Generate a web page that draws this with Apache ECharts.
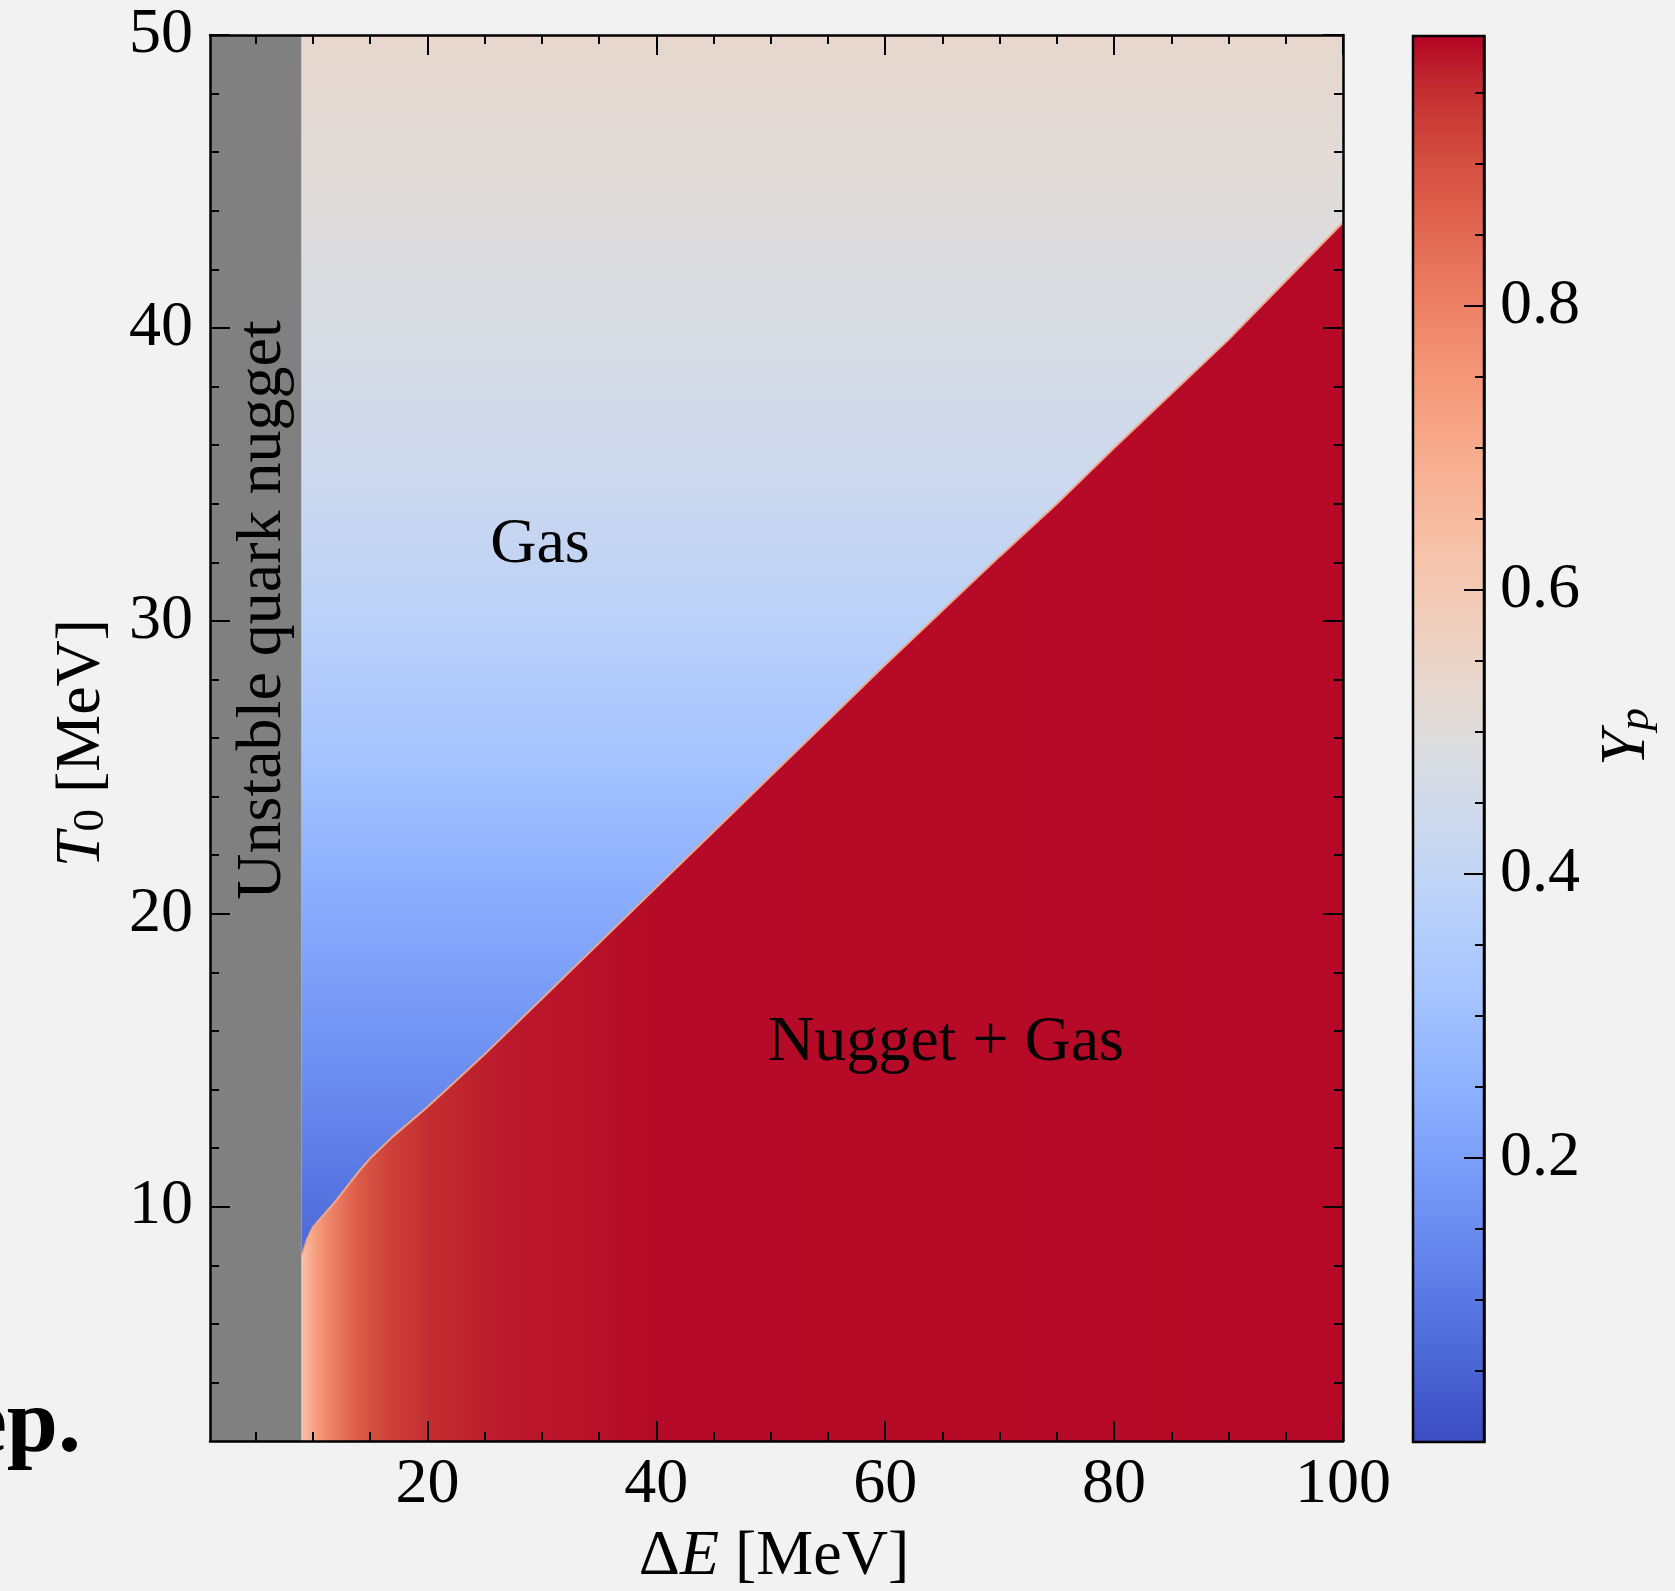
<!DOCTYPE html>
<html>
<head>
<meta charset="utf-8">
<script src="https://cdn.jsdelivr.net/npm/echarts@6/dist/echarts.min.js"></script>
<style>
html,body{margin:0;padding:0;background:#f2f2f2;}
#chart{width:1675px;height:1591px;}
</style>
</head>
<body>
<div id="chart"></div>
<script>
// ---------------- data ----------------
const xRange = [1, 100];            // ΔE [MeV]
const yRange = [2, 50];             // T0 [MeV]
const unstableRange = [1, 9];       // grey "Unstable quark nugget" band in ΔE

// phase boundary between "Gas" (above) and "Nugget + Gas" (below)
const boundaryDE = [9, 9.5, 10, 11, 12, 13, 14, 15, 17, 20, 22.5, 25, 30, 35, 40, 45, 50, 55, 60, 65, 70, 75, 80, 85, 90, 95, 100];
const boundaryT0 = [8.3, 8.9, 9.3, 9.75, 10.2, 10.7, 11.2, 11.65, 12.4, 13.4, 14.3, 15.2, 17.1, 19.0, 20.9, 22.8, 24.7, 26.6, 28.5, 30.35, 32.2, 34.0, 35.9, 37.75, 39.6, 41.6, 43.6];

// Yp in the gas phase (depends on T0 only)
const gasT0 = [2, 8, 10, 12, 15, 20, 25, 30, 35, 40, 45, 50];
const gasYp = [0.0, 0.06, 0.085, 0.115, 0.16, 0.23, 0.31, 0.38, 0.435, 0.475, 0.505, 0.535];

// Yp in the nugget + gas phase (depends on ΔE)
const nuggetDE = [9, 9.5, 10, 11, 12, 13, 14, 15, 17, 20, 23, 27, 33, 40, 100];
const nuggetYp = [0.614, 0.673, 0.713, 0.772, 0.812, 0.846, 0.876, 0.896, 0.926, 0.950, 0.962, 0.972, 0.978, 0.984, 0.986];

// ticks
const xMajorTicks = [20, 40, 60, 80, 100];
const xMinorTicks = [5, 10, 15, 25, 30, 35, 45, 50, 55, 65, 70, 75, 85, 90, 95];
const yMajorTicks = [10, 20, 30, 40, 50];
const yMinorTicks = [4, 6, 8, 12, 14, 16, 18, 22, 24, 26, 28, 32, 34, 36, 38, 42, 44, 46, 48];
const cbarRange = [0, 0.99];
const cbarMajorTicks = [0.2, 0.4, 0.6, 0.8];
const cbarMinorTicks = [0.05, 0.1, 0.15, 0.25, 0.3, 0.35, 0.45, 0.5, 0.55, 0.65, 0.7, 0.75, 0.85, 0.9, 0.95];

// ---------------- colormap (matplotlib coolwarm) ----------------
const COOLWARM = [[59,76,192],[68,90,204],[77,104,215],[87,117,225],[98,130,234],[108,142,241],[119,154,247],[130,165,251],[141,176,254],[152,185,255],[163,194,255],[174,201,253],[184,208,249],[194,213,244],[204,217,238],[213,219,230],[221,221,221],[229,216,209],[236,211,197],[241,204,185],[245,196,173],[247,187,160],[247,177,148],[247,166,135],[244,154,123],[241,141,111],[236,127,99],[229,112,88],[222,96,77],[213,80,66],[203,62,56],[192,40,47],[180,4,38]];
function cw(t) {
  t = Math.max(0, Math.min(1, t));
  const n = COOLWARM.length - 1;
  const f = t * n;
  const i = Math.min(n - 1, Math.floor(f));
  const r = f - i;
  const a = COOLWARM[i], b = COOLWARM[i + 1];
  return 'rgb(' + Math.round(a[0] + (b[0] - a[0]) * r) + ',' + Math.round(a[1] + (b[1] - a[1]) * r) + ',' + Math.round(a[2] + (b[2] - a[2]) * r) + ')';
}
function ypColor(v) { return cw((v - cbarRange[0]) / (cbarRange[1] - cbarRange[0])); }

const FONT = '"Liberation Serif", "Times New Roman", serif';
const FS = 64;
const BLACK = '#000';

function axisLine(show) { return { show: show, onZero: false, lineStyle: { color: BLACK, width: 2.5 } }; }
function ticks(vals, len) { return { show: true, inside: true, length: len, customValues: vals, lineStyle: { color: BLACK, width: 2 } }; }
function labels(vals, margin, fmt) {
  const o = { show: true, customValues: vals, margin: margin, fontFamily: FONT, fontSize: FS, color: BLACK };
  if (fmt) o.formatter = fmt;
  return o;
}
const noLabel = { show: false };

const chart = echarts.init(document.getElementById('chart'), null, { renderer: 'canvas' });

const option = {
  backgroundColor: '#f2f2f2',
  animation: false,
  grid: [
    { left: 210, top: 35, width: 1133, height: 1406 },
    { left: 1413, top: 36, width: 71, height: 1406 }
  ],
  xAxis: [
    { gridIndex: 0, type: 'value', min: xRange[0], max: xRange[1], position: 'bottom', z: 10, axisLine: axisLine(true), axisTick: ticks(xMajorTicks, 20), axisLabel: labels(xMajorTicks, 12), splitLine: { show: false } },
    { gridIndex: 0, type: 'value', min: xRange[0], max: xRange[1], position: 'bottom', offset: 0, z: 10, axisLine: axisLine(false), axisTick: ticks(xMinorTicks, 9), axisLabel: noLabel, splitLine: { show: false } },
    { gridIndex: 0, type: 'value', min: xRange[0], max: xRange[1], position: 'top', z: 10, axisLine: axisLine(true), axisTick: ticks(xMajorTicks, 20), axisLabel: noLabel, splitLine: { show: false } },
    { gridIndex: 0, type: 'value', min: xRange[0], max: xRange[1], position: 'top', offset: 0, z: 10, axisLine: axisLine(false), axisTick: ticks(xMinorTicks, 9), axisLabel: noLabel, splitLine: { show: false } },
    { gridIndex: 1, type: 'value', min: 0, max: 1, show: false }
  ],
  yAxis: [
    { gridIndex: 0, type: 'value', min: yRange[0], max: yRange[1], position: 'left', z: 10, axisLine: axisLine(true), axisTick: ticks(yMajorTicks, 20), axisLabel: labels(yMajorTicks, 17), splitLine: { show: false } },
    { gridIndex: 0, type: 'value', min: yRange[0], max: yRange[1], position: 'left', offset: 0, z: 10, axisLine: axisLine(false), axisTick: ticks(yMinorTicks, 9), axisLabel: noLabel, splitLine: { show: false } },
    { gridIndex: 0, type: 'value', min: yRange[0], max: yRange[1], position: 'right', z: 10, axisLine: axisLine(true), axisTick: ticks(yMajorTicks, 20), axisLabel: noLabel, splitLine: { show: false } },
    { gridIndex: 0, type: 'value', min: yRange[0], max: yRange[1], position: 'right', offset: 0, z: 10, axisLine: axisLine(false), axisTick: ticks(yMinorTicks, 9), axisLabel: noLabel, splitLine: { show: false } },
    { gridIndex: 1, type: 'value', min: cbarRange[0], max: cbarRange[1], position: 'right', z: 10, axisLine: axisLine(true), axisTick: ticks(cbarMajorTicks, 20), axisLabel: labels(cbarMajorTicks, 16, function (v) { return v.toFixed(1); }), splitLine: { show: false } },
    { gridIndex: 1, type: 'value', min: cbarRange[0], max: cbarRange[1], position: 'right', offset: 0, z: 10, axisLine: axisLine(false), axisTick: ticks(cbarMinorTicks, 9), axisLabel: noLabel, splitLine: { show: false } }
  ],
  series: [
    // grey unstable band
    {
      type: 'custom', coordinateSystem: 'cartesian2d', xAxisIndex: 0, yAxisIndex: 0, z: 1,
      data: [[unstableRange[0], unstableRange[1]]],
      renderItem: function (params, api) {
        const p0 = api.coord([api.value(0), yRange[1]]);
        const p1 = api.coord([api.value(1), yRange[0]]);
        return { type: 'rect', shape: { x: p0[0], y: p0[1], width: p1[0] - p0[0], height: p1[1] - p0[1] }, style: { fill: '#808080' } };
      }
    },
    // gas region (above boundary), colour by T0
    {
      type: 'custom', coordinateSystem: 'cartesian2d', xAxisIndex: 0, yAxisIndex: 0, z: 2,
      data: boundaryDE.map(function (d, i) { return [d, boundaryT0[i]]; }),
      renderItem: function (params, api) {
        if (params.dataIndex !== 0) return null;
        const pts = [];
        pts.push(api.coord([boundaryDE[0], yRange[1]]));
        pts.push(api.coord([boundaryDE[boundaryDE.length - 1], yRange[1]]));
        for (let i = boundaryDE.length - 1; i >= 0; i--) pts.push(api.coord([boundaryDE[i], boundaryT0[i]]));
        const top = api.coord([xRange[0], yRange[1]])[1];
        const bot = api.coord([xRange[0], yRange[0]])[1];
        const stops = gasT0.map(function (t, i) {
          return { offset: (api.coord([xRange[0], t])[1] - top) / (bot - top), color: ypColor(gasYp[i]) };
        }).sort(function (a, b) { return a.offset - b.offset; });
        return { type: 'polygon', shape: { points: pts }, style: { fill: new echarts.graphic.LinearGradient(0, top, 0, bot, stops, true) } };
      }
    },
    // nugget + gas region (below boundary), colour by ΔE
    {
      type: 'custom', coordinateSystem: 'cartesian2d', xAxisIndex: 0, yAxisIndex: 0, z: 2,
      data: nuggetDE.map(function (d, i) { return [d, nuggetYp[i]]; }),
      renderItem: function (params, api) {
        if (params.dataIndex !== 0) return null;
        const pts = [];
        for (let i = 0; i < boundaryDE.length; i++) pts.push(api.coord([boundaryDE[i], boundaryT0[i]]));
        pts.push(api.coord([boundaryDE[boundaryDE.length - 1], yRange[0]]));
        pts.push(api.coord([boundaryDE[0], yRange[0]]));
        const left = api.coord([nuggetDE[0], yRange[0]])[0];
        const right = api.coord([nuggetDE[nuggetDE.length - 1], yRange[0]])[0];
        const stops = nuggetDE.map(function (d, i) {
          return { offset: (api.coord([d, yRange[0]])[0] - left) / (right - left), color: ypColor(nuggetYp[i]) };
        });
        return { type: 'polygon', shape: { points: pts }, style: { fill: new echarts.graphic.LinearGradient(left, 0, right, 0, stops, true) } };
      }
    },
    // thin rim along the boundary
    {
      type: 'line', xAxisIndex: 0, yAxisIndex: 0, z: 3, symbol: 'none', silent: true,
      data: boundaryDE.map(function (d, i) { return [d, boundaryT0[i]]; }),
      lineStyle: { color: 'rgba(242,168,135,0.95)', width: 2 }
    },
    // colour bar
    {
      type: 'custom', coordinateSystem: 'cartesian2d', xAxisIndex: 4, yAxisIndex: 4, z: 2,
      data: [[0, cbarRange[0], 1, cbarRange[1]]],
      renderItem: function (params, api) {
        const p0 = api.coord([api.value(0), api.value(3)]);
        const p1 = api.coord([api.value(2), api.value(1)]);
        const stops = COOLWARM.map(function (c, i) {
          return { offset: 1 - i / (COOLWARM.length - 1), color: 'rgb(' + c[0] + ',' + c[1] + ',' + c[2] + ')' };
        }).reverse();
        return {
          type: 'rect',
          shape: { x: p0[0], y: p0[1], width: p1[0] - p0[0], height: p1[1] - p0[1] },
          style: { fill: new echarts.graphic.LinearGradient(0, p0[1], 0, p1[1], stops, true), stroke: BLACK, lineWidth: 2.5 }
        };
      }
    }
  ],
  graphic: [
    { type: 'text', z: 100, x: 540, y: 545, style: { text: 'Gas', fontFamily: FONT, fontSize: FS, fill: BLACK, align: 'center', verticalAlign: 'middle' } },
    { type: 'text', z: 100, x: 946, y: 1043, style: { text: 'Nugget + Gas', fontFamily: FONT, fontSize: FS, fill: BLACK, align: 'center', verticalAlign: 'middle' } },
    { type: 'text', z: 100, x: 263, y: 610, rotation: Math.PI / 2, style: { text: 'Unstable quark nugget', fontFamily: FONT, fontSize: FS, fill: BLACK, align: 'center', verticalAlign: 'middle' } },
    { type: 'text', z: 100, x: 774, y: 1557, style: {
        text: '{u|Δ}{i|E}{u| [MeV]}', align: 'center', verticalAlign: 'middle', fontFamily: FONT, fontSize: FS, fill: BLACK,
        rich: { u: { fontFamily: FONT, fontSize: FS, fill: BLACK }, i: { fontFamily: FONT, fontSize: FS, fontStyle: 'italic', fill: BLACK } } } },
    { type: 'text', z: 100, x: 82, y: 743, rotation: Math.PI / 2, style: {
        text: '{i|T}{s|0}{u| [MeV]}', align: 'center', verticalAlign: 'middle', fontFamily: FONT, fontSize: FS, fill: BLACK,
        rich: { u: { fontFamily: FONT, fontSize: FS, fill: BLACK, lineHeight: 64 }, i: { fontFamily: FONT, fontSize: FS, fontStyle: 'italic', fill: BLACK, lineHeight: 64 }, s: { fontFamily: FONT, fontSize: 45, fill: BLACK, lineHeight: 30, verticalAlign: 'bottom' } } } },
    { type: 'text', z: 100, x: 1627, y: 737, rotation: Math.PI / 2, style: {
        text: '{i|Y}{s|p}', align: 'center', verticalAlign: 'middle', fontFamily: FONT, fontSize: FS, fill: BLACK,
        rich: { i: { fontFamily: FONT, fontSize: FS, fontStyle: 'italic', fill: BLACK, lineHeight: 64 }, s: { fontFamily: FONT, fontSize: 45, fontStyle: 'italic', fill: BLACK, lineHeight: 30, verticalAlign: 'bottom' } } } },
    { type: 'text', z: 100, x: 81, y: 1427, style: { text: 'ep.', fontFamily: FONT, fontSize: 92, fontWeight: 'bold', fill: BLACK, align: 'right', verticalAlign: 'middle' } }
  ]
};
chart.setOption(option);
</script>
</body>
</html>
